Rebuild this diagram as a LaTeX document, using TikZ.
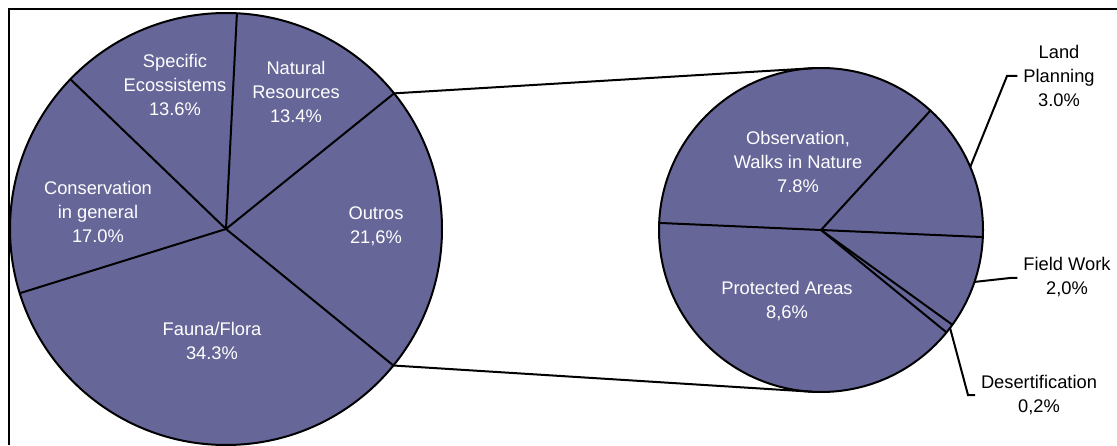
\documentclass[tikz,border=0pt]{standalone}
\usepackage{fontspec}
\setmainfont{Liberation Sans}
\usepackage{xcolor}
\usepackage{tikz}
\usetikzlibrary{calc}
\definecolor{slicecol}{RGB}{102,102,153}

\begin{document}
\begin{tikzpicture}[
    x=1pt, y=1pt, line width=2pt,
    inlbl/.style={text=white, align=center, font=\fontsize{18.3}{24}\selectfont},
    outlbl/.style={text=black, align=center, inner sep=5pt,
      font=\fontsize{18.3}{24}\selectfont}
  ]
  \useasboundingbox (0,0) rectangle (1117,445);
  \draw (9,0) -- (9,436) -- (1117,436);

  % main pie
  \coordinate (bigc) at (226,216);
  \fill[slicecol] (bigc) circle (216);
  \foreach \a [count=\i] in {38.9,87.1,136.1,197.3,320.8}
    \draw (bigc) -- ++(\a:216) coordinate (b\i);
  \draw (bigc) circle (216);

  % detail pie
  \coordinate (smallc) at (821,215);
  \fill[slicecol] (smallc) circle (162);
  \foreach \a [count=\i] in {177.5,47.5,-2.5,-35.8,-39.2}
    \draw (smallc) -- ++(\a:162) coordinate (s\i);
  \draw (smallc) circle (162);
  \coordinate (stop) at ($(smallc)+(93:162)$);
  \coordinate (sbot) at ($(smallc)+(267:162)$);
  \draw (b1) -- (stop);
  \draw (b5) -- (sbot);

  % labels inside
  \node[inlbl] (specific) at (175,360) {Specific\\Ecossistems\\13.6\%};
  \node[inlbl] (natural) at (296,353) {Natural\\Resources\\13.4\%};
  \node[inlbl] (outros) at (376,219) {Outros\\21,6\%};
  \node[inlbl] (conserv) at (98,233) {Conservation\\in general\\17.0\%};
  \node[inlbl] (fauna) at (212,104) {Fauna/Flora\\34.3\%};
  \node[inlbl] (observ) at (798,283) {Observation,\\Walks in Nature\\7.8\%};
  \node[inlbl] (protect) at (787,144) {Protected Areas\\8,6\%};

  % labels outside
  \node[outlbl] (land) at (1059,369) {Land\\Planning\\3.0\%};
  \node[outlbl] (field) at (1067,168) {Field Work\\2,0\%};
  \node[outlbl] (desert) at (1039,50) {Desertification\\0,2\%};
  \coordinate (landpt) at ($(smallc)+(22.9:162)$);
  \coordinate (fieldpt) at ($(smallc)+(-18.7:162)$);
  \coordinate (desertpt) at ($(smallc)+(-37.2:162)$);
  \draw (landpt) -- (1007,369) -- (land.west |- 0,369);
  \draw (fieldpt) -- (1010,167) -- (field.west |- 0,167);
  \draw (desertpt) -- (968,50) -- (desert.west |- 0,50);
\end{tikzpicture}
\end{document}
